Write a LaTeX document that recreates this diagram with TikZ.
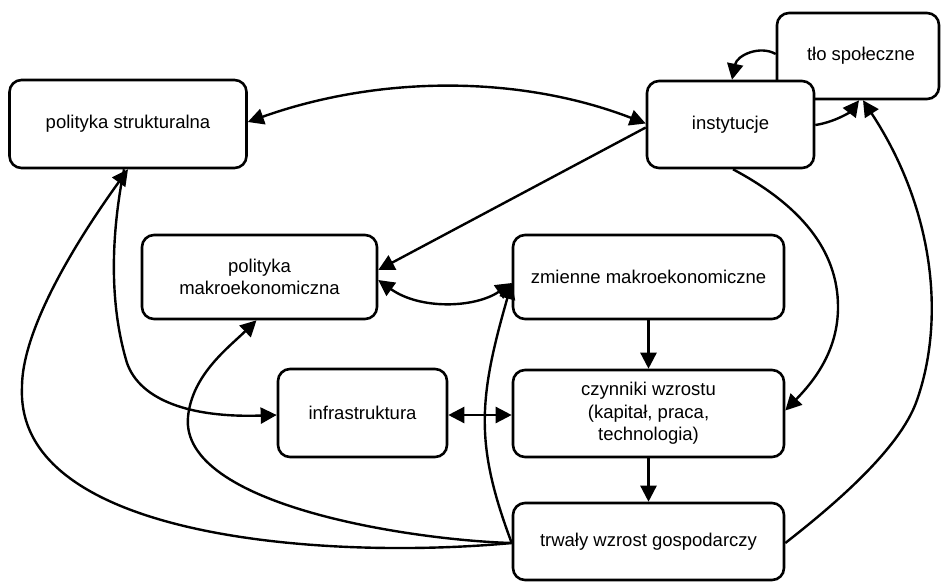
\documentclass[tikz,border=0pt]{standalone}
\usepackage{fontspec}
\setmainfont{Liberation Sans}
\usetikzlibrary{arrows.meta}
\begin{document}
\begin{tikzpicture}[x=1pt,y=-1pt,
  box/.style={draw, line width=2.6pt, rounded corners=12pt, fill=white, align=center,
    font=\fontsize{18.5}{22.5}\selectfont, inner sep=0pt},
  tip/.style={-{Triangle[length=16pt,width=16pt]}},
  conn/.style={line width=2.4pt, tip},
  conn2/.style={line width=2.4pt, {Triangle[length=16pt,width=16pt]}-{Triangle[length=16pt,width=16pt]}}
]
\useasboundingbox (0,0) rectangle (941,582);

% nodes
\node[box, minimum width=162pt, minimum height=86pt] (tlo) at (858,56) {\hspace*{6pt}tło społeczne};
\node[box, minimum width=167pt, minimum height=87pt] (inst) at (730.5,124.5) {instytucje};
\node[box, minimum width=237pt, minimum height=88pt] (ps) at (128,124) {polityka strukturalna};
\node[box, minimum width=235pt, minimum height=84pt] (pm) at (259.5,277) {polityka\\makroekonomiczna};
\node[box, minimum width=271pt, minimum height=84pt] (zm) at (648.5,277) {zmienne makroekonomiczne};
\node[box, minimum width=169pt, minimum height=88pt] (infra) at (362.5,413) {infrastruktura};
\node[box, minimum width=271pt, minimum height=87pt] (cz) at (648.5,413.5) {czynniki wzrostu\\(kapitał, praca,\\technologia)};
\node[box, minimum width=271pt, minimum height=77pt] (tr) at (648.5,541.5) {trwały wzrost gospodarczy};

% polityka strukturalna <-> instytucje
\draw[conn2] ([yshift=2pt]ps.east) .. controls (380,75) and (520,75) .. ([yshift=1pt]inst.west);
% instytucje -> polityka makroekonomiczna
\draw[conn] ([yshift=-3pt]inst.west) -- ([yshift=7pt]pm.east);
% polityka makro <-> zmienne
\draw[conn2] ([yshift=-3pt]pm.east) .. controls (420,310) and (475,308) .. ([yshift=-6pt]zm.west);
% tło -> instytucje
\draw[conn] ([yshift=2pt]tlo.west) .. controls (760,45) and (737,55) .. ([xshift=1.5pt]inst.north);
% instytucje -> tło
\draw[conn] ([yshift=-0.5pt]inst.east) .. controls (835,122) and (850,112) .. ([xshift=1pt]tlo.south);
% instytucje -> czynniki
\draw[conn] ([xshift=2.5pt]inst.south) .. controls (800,205) and (838,250) .. (838,307)
  .. controls (838,350) and (815,380) .. ([yshift=3pt]cz.east);
% zmienne -> czynniki -> trwały
\draw[conn] (zm.south) -- (cz.north);
\draw[conn] (cz.south) -- (tr.north);
% infrastruktura <-> czynniki
\draw[conn2] ([yshift=-2pt]infra.east) -- ([yshift=-1.5pt]cz.west);
% polityka strukturalna -> infrastruktura
\draw[conn] ([xshift=-4pt]ps.south) .. controls (112,230) and (108,300) .. (127,363)
  .. controls (140,400) and (190,418) .. ([yshift=-2pt]infra.west);
% trwały -> polityka strukturalna
\draw[conn] ([yshift=-1.5pt]tr.west) .. controls (330,560) and (15,540) .. (22,387)
  .. controls (22,320) and (95,215) .. (ps.south);
% trwały -> polityka makro
\draw[conn] ([yshift=-1.5pt]tr.west) .. controls (410,540) and (180,505) .. (188,417)
  .. controls (192,375) and (228,348) .. ([xshift=-3pt]pm.south);
% trwały -> zmienne
\draw[conn] ([yshift=-1.5pt]tr.west) .. controls (475,445) and (478,400) .. ([yshift=-6pt]zm.west);
% trwały -> tło
\draw[conn] ([yshift=-1.5pt]tr.east) .. controls (830,508) and (900,450) .. (917,400)
  .. controls (945,320) and (935,210) .. ([xshift=5pt]tlo.south);
\end{tikzpicture}
\end{document}
